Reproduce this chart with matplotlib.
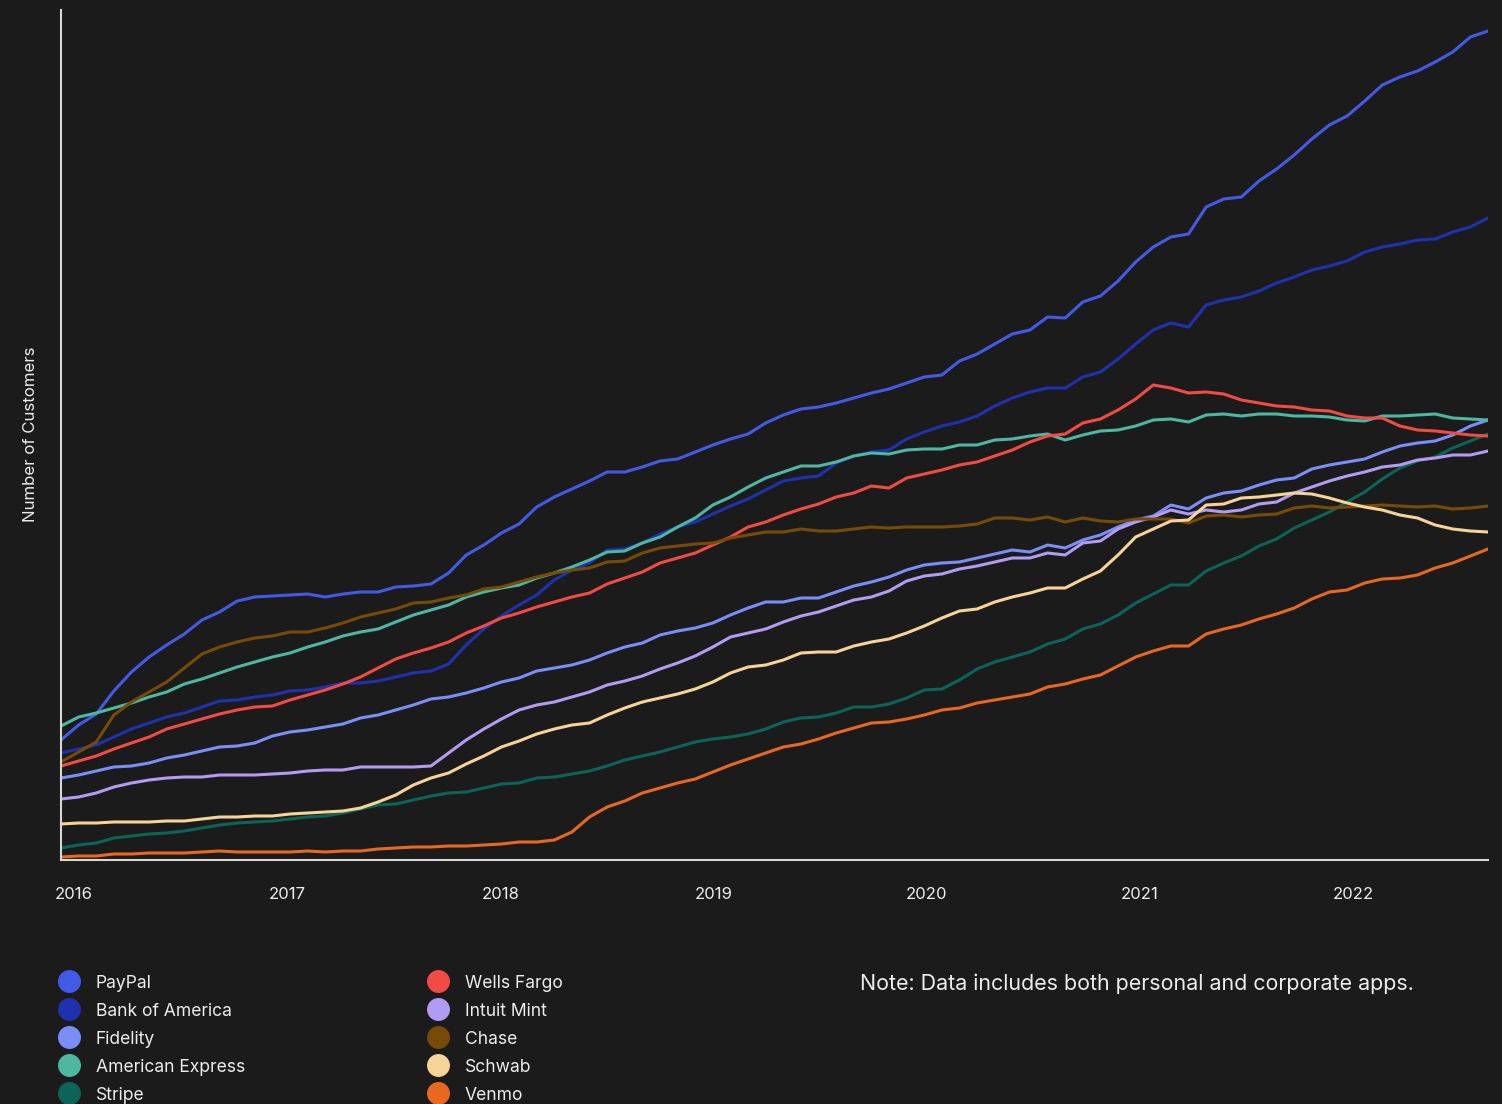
import matplotlib
matplotlib.use("Agg")
import matplotlib.pyplot as plt
import matplotlib.dates as mdates
from matplotlib.lines import Line2D
import pandas as pd

# ---------------- data ----------------
dates = pd.date_range("2015-12-10", "2022-08-20", periods=82)

paypal = [120,135,146,169,188,203,215,226,240,248,
          259,263,264,265,266,263,266,268,268,273,
          274,276,287,305,315,327,336,353,363,371,
          379,388,388,393,399,401,408,415,421,426,
          437,445,451,453,457,462,467,471,477,483,
          485,499,506,516,526,530,543,542,558,564,
          579,598,613,623,626,653,661,663,679,691,
          705,721,735,744,759,775,783,789,798,808,
          823,829]
bank_of_america = [107,111,115,123,131,137,143,147,153,159,
                   160,163,165,169,170,173,177,177,179,183,
                   187,189,196,215,231,244,255,265,280,290,
                   297,310,311,317,326,333,338,346,354,361,
                   370,379,382,384,397,404,408,410,421,428,
                   434,438,444,454,462,468,472,472,483,488,
                   501,516,530,537,533,555,560,563,569,577,
                   583,590,594,599,608,613,616,620,621,628,
                   633,642]
fidelity = [82,85,89,93,94,97,102,105,109,113,
            114,117,124,128,130,133,136,142,145,150,
            155,161,163,167,172,178,182,189,192,195,
            200,207,213,217,225,229,232,237,245,252,
            258,258,262,262,268,274,278,283,290,295,
            297,298,302,306,310,308,315,312,320,325,
            333,340,344,355,351,362,367,369,375,380,
            382,391,395,398,401,408,414,417,419,425,
            434,440]
american_express = [134,143,147,152,157,163,168,176,181,187,
                    193,198,203,207,213,218,224,228,231,238,
                    245,250,255,263,268,272,275,282,287,293,
                    300,308,309,317,323,333,342,355,363,373,
                    382,388,394,394,398,404,407,406,410,411,
                    411,415,415,420,421,424,426,420,425,429,
                    430,434,440,441,438,445,446,444,446,446,
                    444,444,443,440,439,444,444,445,446,442,
                    441,440]
stripe = [12,15,17,22,24,26,27,29,32,35,
          37,38,39,41,43,44,47,51,55,56,
          60,64,67,68,72,76,77,82,83,86,
          89,94,100,104,108,113,118,121,123,126,
          131,138,142,143,147,153,153,156,162,170,
          171,180,191,198,203,208,216,221,231,236,
          245,257,266,275,275,289,297,304,314,321,
          332,340,348,358,368,381,392,399,403,412,
          419,426]
wells_fargo = [94,99,104,111,117,123,131,136,141,146,
               150,153,154,160,165,170,176,183,192,201,
               207,212,218,227,234,242,247,253,258,263,
               267,276,282,288,297,302,307,315,323,333,
               338,345,351,356,363,367,374,372,382,386,
               390,395,398,404,410,418,424,426,437,441,
               450,461,475,472,467,468,466,460,457,454,
               453,450,449,444,442,442,434,430,429,427,
               425,424]
intuit_mint = [61,63,67,73,77,80,82,83,83,85,
               85,85,86,87,89,90,90,93,93,93,
               93,94,107,120,131,141,150,155,158,163,
               168,175,179,184,191,197,204,213,223,227,
               231,238,244,248,254,260,263,269,279,284,
               286,291,294,298,302,302,307,305,317,319,
               331,338,343,350,346,350,348,350,356,358,
               367,373,379,384,388,393,395,400,402,405,
               405,409]
chase = [98,108,118,145,158,168,178,192,206,213,
         218,222,224,228,228,232,237,243,247,251,
         257,258,262,265,271,273,278,283,287,290,
         292,298,299,307,312,314,316,317,322,325,
         328,328,331,329,329,331,333,332,333,333,
         333,334,336,342,342,340,343,338,342,339,
         338,341,341,341,337,344,345,343,345,346,
         352,354,352,353,354,355,354,353,354,351,
         352,354]
schwab = [36,37,37,38,38,38,39,39,41,43,
          43,44,44,46,47,48,49,52,58,65,
          75,82,87,96,104,113,119,126,131,135,
          137,145,152,158,162,166,171,178,187,193,
          195,200,207,208,208,214,218,221,227,234,
          242,249,251,258,263,267,272,272,281,289,
          305,323,331,339,340,355,356,362,363,365,
          367,366,362,357,353,350,345,342,335,331,
          329,328]
venmo = [3,4,4,6,6,7,7,7,8,9,
         8,8,8,8,9,8,9,9,11,12,
         13,13,14,14,15,16,18,18,20,28,
         43,53,59,67,72,77,81,88,95,101,
         107,113,116,121,127,132,137,138,141,145,
         150,152,157,160,163,166,173,176,181,185,
         194,203,209,214,214,226,231,235,241,246,
         252,261,268,270,277,281,282,285,292,297,
         304,311]

names = ["PayPal", "Bank of America", "Fidelity", "American Express", "Stripe",
         "Wells Fargo", "Intuit Mint", "Chase", "Schwab", "Venmo"]
series = [paypal, bank_of_america, fidelity, american_express, stripe,
          wells_fargo, intuit_mint, chase, schwab, venmo]
colors = ["#435AE6", "#1F31AE", "#7B8DF8", "#4DB7A2", "#0B6457",
          "#F24B43", "#B29BF3", "#774B05", "#F6D498", "#E8681F"]

note = "Note: Data includes both personal and corporate apps."

# ---------------- figure ----------------
BG = "#1b1b1b"
FG = "#ececec"
plt.rcParams["font.family"] = ["Inter", "DejaVu Sans"]

W, H = 1502, 1104
fig = plt.figure(figsize=(W / 100, H / 100), dpi=100, facecolor=BG)
ax = fig.add_axes([61 / W, (H - 860) / H, (1488 - 61) / W, (860 - 10) / H])
ax.set_facecolor(BG)

for name, vals, c in zip(names, series, colors):
    ax.plot(dates, vals, color=c, lw=2.2, solid_joinstyle="round", label=name)

ax.set_xlim(dates[0], dates[-1])
ax.set_ylim(0, 850)
ax.set_yticks([])
ax.xaxis.set_major_locator(mdates.YearLocator())
ax.xaxis.set_major_formatter(mdates.DateFormatter("%Y"))
ax.tick_params(axis="x", length=0, pad=19.5, labelsize=12, labelcolor=FG)

for s in ["top", "right"]:
    ax.spines[s].set_visible(False)
for s in ["left", "bottom"]:
    ax.spines[s].set_color("#d6d6d6")
    ax.spines[s].set_linewidth(1.5)

fig.text(31 / W, 1 - 434 / H, "Number of Customers", rotation=90,
         ha="center", va="center", color=FG, fontsize=12.1)

# legend: two columns
def make_handles(idx):
    return [Line2D([], [], marker="o", ls="", markersize=15.5,
                   markerfacecolor=colors[i], markeredgecolor=colors[i])
            for i in idx]

fs = 12.6
for idx, x0 in [(range(0, 5), 58), (range(5, 10), 427)]:
    leg = fig.legend(make_handles(idx), [names[i] for i in idx],
                     loc="upper left", bbox_to_anchor=(x0 / W, 1 - 974 / H),
                     frameon=False, fontsize=fs, labelcolor=FG,
                     borderpad=0, borderaxespad=0,
                     handlelength=22 / (fs * 100 / 72), handleheight=1.0,
                     handletextpad=0.9, labelspacing=0.585)

fig.text(860 / W, 1 - 983.5 / H, note, ha="left", va="center",
         color=FG, fontsize=15.45)

fig.savefig("out.png", dpi=100, facecolor=BG)
